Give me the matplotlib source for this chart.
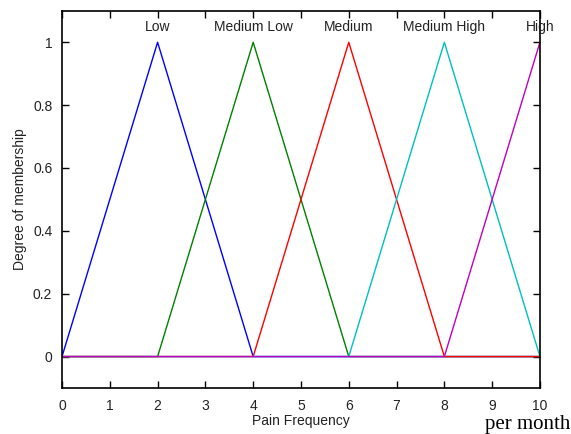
import numpy as np
import matplotlib
matplotlib.use("Agg")
import matplotlib.pyplot as plt

# membership functions (triangles): name, (a, b, c), colour
mf_names = ["Low", "Medium Low", "Medium", "Medium High", "High"]
mf_params = [(0, 2, 4), (2, 4, 6), (4, 6, 8), (6, 8, 10), (8, 10, 12)]
mf_colors = ["#0000ff", "#008000", "#ff0000", "#00bfbf", "#bf00bf"]
x_range = (0, 10)
x_ticks = list(range(0, 11))
y_ticks = [0, 0.2, 0.4, 0.6, 0.8, 1]
y_tick_labels = ["0", "0.2", "0.4", "0.6", "0.8", "1"]

plt.rcParams['font.family'] = ['Liberation Sans', 'DejaVu Sans']

fig = plt.figure(figsize=(5.71, 4.34), dpi=100)
ax = fig.add_axes([0.1086, 0.106, 0.837, 0.869])

for name, (a, b, c), col in zip(mf_names, mf_params, mf_colors):
    xs = [x_range[0], a, b, c, x_range[1]]
    ys = [0, 0, 1, 0, 0]
    # clip the triangle to the universe of discourse
    if c > x_range[1]:
        xs = [x_range[0], a, b]
        ys = [0, 0, 1]
    ax.plot(xs, ys, color=col, lw=1.0)
    ax.text(b, 1.048, name, ha="center", va="center", fontsize=10, color="#222222")

ax.set_xlim(*x_range)
ax.set_ylim(-0.1, 1.1)
ax.set_xticks(x_ticks)
ax.set_yticks(y_ticks)
ax.set_yticklabels(y_tick_labels)
ax.tick_params(direction="in", length=5, width=1, top=True, right=True,
               labelsize=10, labelcolor="#222222")
ax.tick_params(axis="x", pad=8)
ax.tick_params(axis="y", pad=7)
for s in ax.spines.values():
    s.set_linewidth(1.2)
ax.set_xlabel("Pain Frequency", fontsize=10, color="#222222", labelpad=1)
ax.set_ylabel("Degree of membership", fontsize=10, color="#222222", labelpad=4)

fig.text(0.849, 0.012, "per month", family="Liberation Serif", fontsize=15, color="black")

fig.savefig("out.png", dpi=100)
